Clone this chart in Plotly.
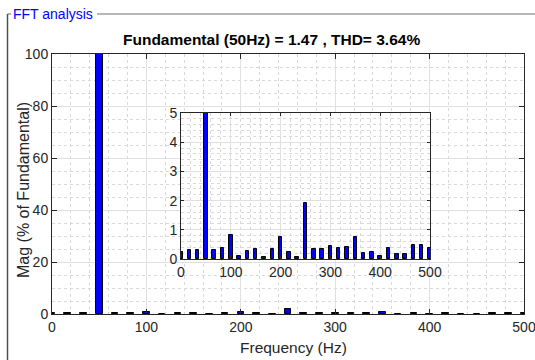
import plotly.graph_objects as go

# Harmonic frequencies (Hz) – multiples of 50/3 Hz
freqs = [k * 50.0 / 3.0 for k in range(31)]
# Magnitudes (% of fundamental)
mags = [0.24, 0.30, 0.30, 100.0, 0.31, 0.39, 0.83, 0.11, 0.28, 0.35,
        0.07, 0.34, 0.74, 0.25, 0.08, 1.91, 0.35, 0.35, 0.44, 0.39,
        0.42, 0.74, 0.19, 0.23, 0.11, 0.36, 0.18, 0.17, 0.48, 0.47, 0.38]

main_xticks = [0, 100, 200, 300, 400, 500]
main_yticks = [0, 20, 40, 60, 80, 100]
inset_yticks = [0, 1, 2, 3, 4, 5]

title_text = "Fundamental (50Hz) = 1.47 , THD= 3.64%"
panel_title = "FFT analysis"
x_title = "Frequency (Hz)"
y_title = "Mag (% of Fundamental)"

W, H = 535, 360
L, R, T, B = 52, 11, 54, 46
PW, PH = W - L - R, H - T - B

def px_x(x):
    return (x - L) / PW

def px_y(y):
    return 1 - (y - T) / PH

FONT = "Liberation Sans, Arial, sans-serif"
AX = "#262626"
GRID = "#e0e0e0"
MINOR = "#d9d9d9"

bar_style = dict(color="#0000ff", line=dict(color="black", width=1))

fig = go.Figure()
fig.add_trace(go.Bar(x=freqs, y=mags, width=7, marker=bar_style,
                     xaxis="x", yaxis="y", showlegend=False))
fig.add_trace(go.Bar(x=freqs, y=mags, width=7, marker=bar_style,
                     xaxis="x2", yaxis="y2", showlegend=False))

def axis(rng, ticks, minor_dt, domain, anchor, ticklen):
    return dict(range=rng, tickvals=ticks, domain=domain, anchor=anchor,
                showline=True, linecolor=AX, linewidth=1, mirror="allticks",
                ticks="inside", ticklen=ticklen, tickcolor=AX, tickwidth=1,
                showgrid=True, gridcolor=GRID, gridwidth=1, zeroline=False,
                automargin=False, ticklabeloverflow="allow",
                tickfont=dict(family=FONT, size=14, color=AX),
                minor=dict(dtick=minor_dt, showgrid=True, gridcolor=MINOR,
                           griddash="dot", gridwidth=1, ticks=""),
                fixedrange=True)

ix0, ix1 = px_x(181), px_x(430)
iy0, iy1 = px_y(259), px_y(113)

fig.update_layout(
    width=W, height=H,
    margin=dict(l=L, r=R, t=T, b=B, autoexpand=False),
    paper_bgcolor="white", plot_bgcolor="white",
    bargap=0,
    xaxis=axis([0, 500], main_xticks, 20, [0, 1], "y", 5),
    yaxis=axis([0, 100], main_yticks, 5, [0, 1], "x", 5),
    xaxis2=axis([0, 500], main_xticks, 20, [ix0, ix1], "y2", 3),
    yaxis2=axis([0, 5], inset_yticks, 0.2, [iy0, iy1], "x2", 3),
)

# Title
fig.add_annotation(text="<b>" + title_text + "</b>", xref="paper", yref="paper",
                   x=px_x(271), y=px_y(39), showarrow=False,
                   font=dict(family=FONT, size=15.5, color="black"),
                   xanchor="center", yanchor="middle")
# Axis titles
fig.add_annotation(text=x_title, xref="paper", yref="paper",
                   x=px_x(293), y=px_y(347), showarrow=False,
                   font=dict(family=FONT, size=15.5, color=AX),
                   xanchor="center", yanchor="middle")
fig.add_annotation(text=y_title, xref="paper", yref="paper",
                   x=px_x(23), y=px_y(190), showarrow=False, textangle=-90,
                   font=dict(family=FONT, size=16, color=AX),
                   xanchor="center", yanchor="middle")
# Panel title
fig.add_annotation(text=panel_title, xref="paper", yref="paper",
                   x=px_x(11), y=px_y(14), showarrow=False,
                   font=dict(family=FONT, size=14, color="#0000ff"),
                   xanchor="left", yanchor="middle")
# Panel border lines
fig.add_shape(type="line", xref="paper", yref="paper",
              x0=px_x(97), x1=px_x(536), y0=px_y(14), y1=px_y(14),
              line=dict(color="#a0a0a0", width=1.5), layer="above")
fig.add_shape(type="line", xref="paper", yref="paper",
              x0=px_x(7.5), x1=px_x(11), y0=px_y(14), y1=px_y(14),
              line=dict(color="#606060", width=1), layer="above")
fig.add_shape(type="line", xref="paper", yref="paper",
              x0=px_x(7.5), x1=px_x(7.5), y0=px_y(14), y1=px_y(361),
              line=dict(color="#505050", width=1.5), layer="above")

fig.write_html("out.html")
